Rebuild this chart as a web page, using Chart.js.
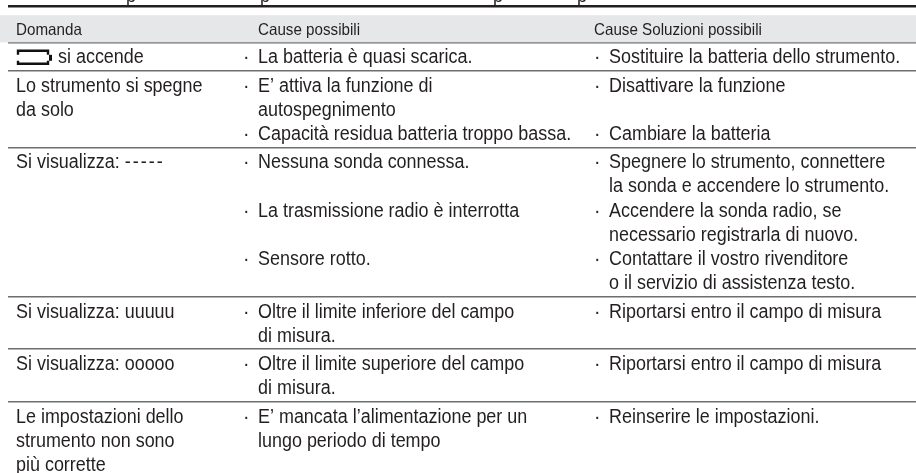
<!DOCTYPE html>
<html>
<head>
<meta charset="utf-8">
<style>
  html, body { margin: 0; padding: 0; background: #fff; }
  #wrap { width: 916px; height: 473px; }
</style>
<script src="https://cdn.jsdelivr.net/npm/chart.js@4"></script>
</head>
<body>
<div id="wrap"><canvas id="table-chart"></canvas></div>
<script>
/* ── Data ── */
const HEADERS   = ['Domanda', 'Cause possibili', 'Cause Soluzioni possibili'];
const QUESTIONS = [
  ['si accende'],
  ['Lo strumento si spegne', 'da solo'],
  ['Si visualizza: -----'],
  ['Si visualizza: uuuuu'],
  ['Si visualizza: ooooo'],
  ['Le impostazioni dello', 'strumento non sono', 'più corrette'],
];
const CAUSES = [
  ['· La batteria è quasi scarica.'],
  ['· E’ attiva la funzione di', 'autospegnimento', '· Capacità residua batteria troppo bassa.'],
  ['· Nessuna sonda connessa.', '', '· La trasmissione radio è interrotta', '', '· Sensore rotto.'],
  ['· Oltre il limite inferiore del campo', 'di misura.'],
  ['· Oltre il limite superiore del campo', 'di misura.'],
  ['· E’ mancata l’alimentazione per un', 'lungo periodo di tempo'],
];
const SOLUTIONS = [
  ['· Sostituire la batteria dello strumento.'],
  ['· Disattivare la funzione', '', '· Cambiare la batteria'],
  ['· Spegnere lo strumento, connettere', 'la sonda e accendere lo strumento.',
   '· Accendere la sonda radio, se', 'necessario registrarla di nuovo.',
   '· Contattare il vostro rivenditore', 'o il servizio di assistenza testo.'],
  ['· Riportarsi entro il campo di misura'],
  ['· Riportarsi entro il campo di misura'],
  ['· Reinserire le impostazioni.'],
];
const ROW_LINES = [1, 3, 6, 2, 2, 3];
const CUT_OFF_X = [126, 260, 493, 577];   // descenders of the line cropped off above

/* ── Constants ── */
const FONT_NAME    = '"Liberation Sans"';
const TEXT_COLOR   = '#231f20';
const RULE_COLOR   = '#6d6e70';
const TOP_COLOR    = '#231f20';
const BAND_COLOR   = '#e6e7e8';
const BODY_SIZE    = 19.5;
const HEAD_SIZE    = 16.5;
const TEXT_STRETCH = 0.92;
const LINE_PX      = 24.2;    // one text line, in pixels
const ROW_PAD      = 0.17;    // extra room per row, in lines
const COL_X        = [16, 258, 609];
const BULLET_GAP   = 15;
const BATTERY_GAP  = 42;

/* ── Layout in line units ── */
const HEAD_TOP   = 0;
const HEAD_LINES = 1.15;
const TOP_RULE   = -8.6 / LINE_PX;
const CUT_LINE   = -18 / LINE_PX;
const ruleValues = [HEAD_LINES];
ROW_LINES.forEach(n => ruleValues.push(ruleValues[ruleValues.length - 1] + n + ROW_PAD));

function anchors() {
  const out = [];
  CUT_OFF_X.forEach(x => out.push({ x, y: CUT_LINE, text: 'p', head: false }));
  HEADERS.forEach((t, c) => out.push({ x: c === 2 ? COL_X[2] - BULLET_GAP : COL_X[c], y: HEAD_LINES / 2 + 0.07, text: t, head: true }));
  [QUESTIONS, CAUSES, SOLUTIONS].forEach((col, c) => {
    col.forEach((lines, r) => {
      lines.forEach((line, i) => {
        if (line) out.push({ x: COL_X[c], y: ruleValues[r] + 0.64 + i, text: line, head: false, battery: c === 0 && r === 0 });
      });
    });
  });
  return out;
}

/* ── Table drawing plugin ── */
const tablePlugin = {
  id: 'tablePlugin',
  beforeDatasetsDraw(chart) {
    const { ctx, scales: { y } } = chart;
    const top = y.getPixelForValue(HEAD_TOP) + 0.7;
    ctx.save();
    ctx.fillStyle = BAND_COLOR;
    ctx.fillRect(0, top, chart.width, y.getPixelForValue(HEAD_LINES) - top);
    ctx.restore();
  },
  afterDatasetsDraw(chart) {
    const { ctx } = chart;
    const pts = chart.data.datasets[0].data;
    ctx.save();
    ctx.fillStyle = TEXT_COLOR;
    ctx.textBaseline = 'middle';
    chart.getDatasetMeta(0).data.forEach((el, i) => {
      const p = pts[i];
      let text = p.text;
      let x = el.x;
      ctx.font = `${p.head ? HEAD_SIZE : BODY_SIZE}px ${FONT_NAME}`;
      if (text.startsWith('· ')) {
        ctx.fillText('·', x - BULLET_GAP, el.y);
        text = text.slice(2);
      }
      if (p.battery) {
        drawBattery(ctx, x, el.y);
        x += BATTERY_GAP;
      }
      ctx.save();
      ctx.translate(x, el.y);
      ctx.scale(TEXT_STRETCH, 1);
      if (text.endsWith('-----')) {
        const head = text.slice(0, -5);
        const headWidth = ctx.measureText(head).width;
        ctx.fillText(head, 0, 0);
        ctx.letterSpacing = '2.2px';
        ctx.fillText('-----', headWidth, 0);
      } else {
        ctx.fillText(text, 0, 0);
      }
      ctx.restore();
    });
    ctx.restore();
  },
};

function drawBattery(ctx, x, y) {
  ctx.save();
  ctx.strokeStyle = '#111';
  ctx.lineWidth = 2.4;
  ctx.beginPath();
  ctx.moveTo(x + 2, y - 3);
  ctx.lineTo(x + 2, y - 7);
  ctx.lineTo(x + 32, y - 7);
  ctx.lineTo(x + 32, y - 3);
  ctx.moveTo(x + 32, y + 3);
  ctx.lineTo(x + 32, y + 6);
  ctx.lineTo(x + 2, y + 6);
  ctx.lineTo(x + 2, y + 3);
  ctx.stroke();
  ctx.fillStyle = '#111';
  ctx.fillRect(x + 33, y - 3, 3, 6);
  ctx.restore();
}

/* ── Chart ── */
new Chart(document.getElementById('table-chart'), {
  type: 'scatter',
  data: {
    datasets: [{ data: anchors(), pointRadius: 0, showLine: false }],
  },
  options: {
    responsive: true,
    maintainAspectRatio: false,
    animation: false,
    layout: { padding: { left: 8, top: 0, right: 0, bottom: 0 } },
    plugins: { legend: { display: false }, tooltip: { enabled: false } },
    scales: {
      x: { type: 'linear', min: 8, max: 916, display: false },
      y: {
        type: 'linear', reverse: true, min: -14.5 / LINE_PX, max: (473 - 14.5) / LINE_PX,
        border: { display: false },
        afterBuildTicks: axis => {
          axis.ticks = [TOP_RULE, ...ruleValues.slice(0, 6)].map(v => ({ value: v }));
        },
        ticks: { display: false },
        grid: {
          color: c => (c.index === 0 ? TOP_COLOR : RULE_COLOR),
          lineWidth: c => (c.index === 0 ? 2.4 : 1.5),
          drawTicks: false,
        },
      },
    },
  },
  plugins: [tablePlugin],
});
</script>
</body>
</html>
